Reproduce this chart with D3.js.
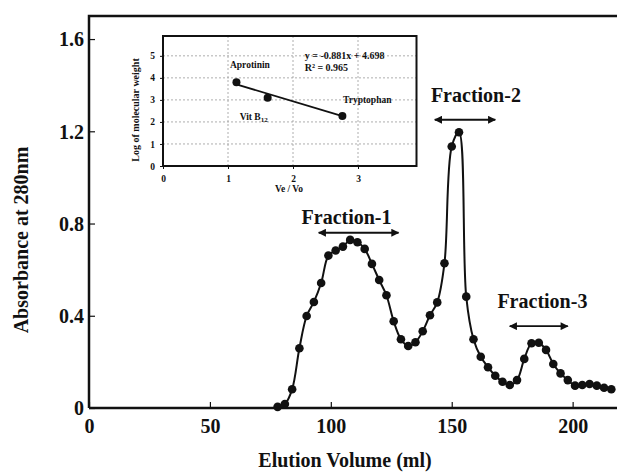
<!DOCTYPE html>
<html>
<head>
<meta charset="utf-8">
<script src="https://cdn.jsdelivr.net/npm/d3@7"></script>
<style>
  body { margin: 0; background: #fff; }
  svg text { font-family: "Liberation Serif", "DejaVu Serif", serif !important; font-weight: bold; fill: #111; }
</style>
</head>
<body>
<svg width="617" height="476"></svg>
<script>
// Elution profile (3 ml fractions)
const volume = [78, 81, 84, 87, 90, 93, 96, 99, 102, 105, 108, 111, 114, 117, 120, 123,
  126, 129, 132, 135, 138, 141, 144, 147, 150, 153, 156, 159, 162, 165, 168, 171, 174,
  177, 180, 183, 186, 189, 192, 195, 198, 201, 204, 207, 210, 213, 216];
const absorbance = [0.005, 0.017, 0.081, 0.259, 0.399, 0.46, 0.542, 0.661, 0.683, 0.70,
  0.729, 0.719, 0.69, 0.625, 0.555, 0.489, 0.376, 0.298, 0.269, 0.285, 0.333, 0.402,
  0.458, 0.628, 1.134, 1.196, 0.483, 0.298, 0.222, 0.177, 0.14, 0.114, 0.10, 0.121,
  0.213, 0.281, 0.283, 0.252, 0.191, 0.15, 0.121, 0.097, 0.10, 0.104, 0.097, 0.088, 0.081];
const xTicks = [0, 50, 100, 150, 200];
const yTicks = [0, 0.4, 0.8, 1.2, 1.6];

// Pooled fractions (arrows)
const fractions = ['Fraction-1', 'Fraction-2', 'Fraction-3'];
const fractionStart = [95, 143, 174];
const fractionEnd = [128, 168, 198];
const fractionLevel = [0.76, 1.25, 0.355];

// Calibration inset
const standards = ['Aprotinin', 'Vit B', 'Tryptophan'];
const standardSub = ['', '12', ''];
const veVo = [1.13, 1.61, 2.76];
const logMW = [3.8, 3.1, 2.27];
const slope = -0.881;
const intercept = 4.698;
const rSquared = 0.965;
const insetXTicks = [0, 1, 2, 3];
const insetYTicks = [0, 1, 2, 3, 4, 5];

const svg = d3.select('svg');
const serif = '"Liberation Serif", "DejaVu Serif", serif';

// Main scales
const x = d3.scaleLinear().domain([0, 220]).range([89, 621]);
const y = d3.scaleLinear().domain([0, 1.7]).range([408, 16]);

const fmt = (d) => d === 0 ? '0' : d.toFixed(1);

const xAxis = svg.append('g')
    .attr('transform', `translate(0, ${y(0)})`)
    .call(d3.axisBottom(x).tickValues(xTicks).tickSize(-6).tickSizeOuter(0).tickPadding(11));
const yAxis = svg.append('g')
    .attr('transform', `translate(${x(0)}, 0)`)
    .call(d3.axisLeft(y).tickValues(yTicks).tickFormat(fmt).tickSize(-6).tickSizeOuter(0).tickPadding(5));

[xAxis, yAxis].forEach((a) => {
  a.attr('font-family', serif);
  a.select('.domain').remove();
  a.selectAll('line').attr('stroke', '#111').attr('stroke-width', 1.2);
  a.selectAll('text')
    .style('font-size', '20px')
    .attr('fill', '#111');
});
yAxis.selectAll('.tick text').attr('dy', '0.34em');

// Frame: left + bottom + top (right edge falls outside the picture)
svg.append('path')
    .attr('d', `M${x(0)},${y(0)}H${x(220)}M${x(0)},${y(0)}V${y(1.7)}H${x(220)}`)
    .attr('fill', 'none')
    .attr('stroke', '#111')
    .attr('stroke-width', 2.5);

// Axis titles
svg.append('text')
    .attr('x', 345).attr('y', 467)
    .attr('text-anchor', 'middle')
    .style('font-size', '20px')
    .text('Elution Volume (ml)');
svg.append('text')
    .attr('transform', 'translate(28, 240) rotate(-90)')
    .attr('text-anchor', 'middle')
    .style('font-size', '20px')
    .text('Absorbance at 280nm');

// Profile line and markers
const pts = volume.map((v, i) => [v, absorbance[i]]);
svg.append('path')
    .datum(pts)
    .attr('fill', 'none')
    .attr('stroke', '#111')
    .attr('stroke-width', 2)
    .attr('d', d3.line().x((d) => x(d[0])).y((d) => y(d[1])).curve(d3.curveCatmullRom.alpha(0.5)));
svg.append('g').selectAll('circle')
    .data(pts)
    .join('circle')
    .attr('cx', (d) => x(d[0]))
    .attr('cy', (d) => y(d[1]))
    .attr('r', 4.3)
    .attr('fill', '#111');

// Arrow heads
const defs = svg.append('defs');
['start', 'end'].forEach((k) => {
  defs.append('marker')
      .attr('id', `arrow-${k}`)
      .attr('viewBox', '0 0 10 10')
      .attr('refX', k === 'end' ? 9 : 1).attr('refY', 5)
      .attr('markerWidth', 9).attr('markerHeight', 8)
      .attr('markerUnits', 'userSpaceOnUse')
      .attr('orient', 'auto')
      .append('path')
      .attr('d', k === 'end' ? 'M0,0L10,5L0,10Z' : 'M10,0L0,5L10,10Z')
      .attr('fill', '#111');
});

// label offsets above the arrow (px), and label centre shift (ml)
const labelLift = [9, 18, 18];
const labelShift = [-5, 4.5, 1.5];
fractions.forEach((f, i) => {
  svg.append('line')
      .attr('x1', x(fractionStart[i])).attr('x2', x(fractionEnd[i]))
      .attr('y1', y(fractionLevel[i])).attr('y2', y(fractionLevel[i]))
      .attr('stroke', '#111').attr('stroke-width', 1.8)
      .attr('marker-start', 'url(#arrow-start)')
      .attr('marker-end', 'url(#arrow-end)');
  svg.append('text')
      .attr('x', x((fractionStart[i] + fractionEnd[i]) / 2 + labelShift[i]))
      .attr('y', y(fractionLevel[i]) - labelLift[i])
      .attr('text-anchor', 'middle')
      .style('font-size', '20px')
      .text(f);
});

// ---- Inset: calibration curve ----
const ix = d3.scaleLinear().domain([0, 3.9]).range([163, 416.5]);
const iy = d3.scaleLinear().domain([0, 5.9]).range([166, 36]);
const inset = svg.append('g');

inset.append('rect')
    .attr('x', ix(0)).attr('y', iy(5.9))
    .attr('width', ix(3.9) - ix(0)).attr('height', iy(0) - iy(5.9))
    .attr('fill', '#fff');

// dashed grid
inset.append('g').selectAll('line')
    .data(insetYTicks.slice(1))
    .join('line')
    .attr('x1', ix(0)).attr('x2', ix(3.9))
    .attr('y1', (d) => iy(d)).attr('y2', (d) => iy(d))
    .attr('stroke', '#999').attr('stroke-width', 0.8).attr('stroke-dasharray', '2,2');
inset.append('g').selectAll('line')
    .data(insetXTicks.slice(1))
    .join('line')
    .attr('x1', (d) => ix(d)).attr('x2', (d) => ix(d))
    .attr('y1', iy(0)).attr('y2', iy(5.9))
    .attr('stroke', '#999').attr('stroke-width', 0.8).attr('stroke-dasharray', '2,2');

const ixAxis = inset.append('g')
    .attr('transform', `translate(0, ${iy(0)})`)
    .call(d3.axisBottom(ix).tickValues(insetXTicks).tickFormat(d3.format('d'))
      .tickSize(3).tickSizeOuter(0).tickPadding(6));
const iyAxis = inset.append('g')
    .attr('transform', `translate(${ix(0)}, 0)`)
    .call(d3.axisLeft(iy).tickValues(insetYTicks).tickFormat(d3.format('d'))
      .tickSize(3).tickSizeOuter(0).tickPadding(5));
[ixAxis, iyAxis].forEach((a) => {
  a.attr('font-family', serif);
  a.select('.domain').remove();
  a.selectAll('line').attr('stroke', '#111');
  a.selectAll('text')
    .style('font-size', '9.5px')
    .attr('fill', '#111');
});

inset.append('rect')
    .attr('x', ix(0)).attr('y', iy(5.9))
    .attr('width', ix(3.9) - ix(0)).attr('height', iy(0) - iy(5.9))
    .attr('fill', 'none').attr('stroke', '#111').attr('stroke-width', 2);

// regression line
inset.append('line')
    .attr('x1', ix(veVo[0])).attr('y1', iy(slope * veVo[0] + intercept))
    .attr('x2', ix(veVo[2])).attr('y2', iy(slope * veVo[2] + intercept))
    .attr('stroke', '#111').attr('stroke-width', 1.8);

inset.append('g').selectAll('circle')
    .data(veVo)
    .join('circle')
    .attr('cx', (d) => ix(d))
    .attr('cy', (d, i) => iy(logMW[i]))
    .attr('r', 4)
    .attr('fill', '#111');

// standard labels (position in inset units)
const standardLabelX = [1.03, 1.18, 2.77];
const standardLabelY = [4.45, 2.09, 2.86];
standards.forEach((s, i) => {
  const t = inset.append('text')
      .attr('x', ix(standardLabelX[i]))
      .attr('y', iy(standardLabelY[i]))
      .style('font-size', '9.5px')
      .text(s);
  if (standardSub[i]) {
    t.append('tspan').attr('dy', 2.5).style('font-size', '7px').text(standardSub[i]);
  }
});

inset.append('text')
    .attr('x', ix(2.18)).attr('y', iy(4.86))
    .style('font-size', '10px')
    .text(`y = ${slope}x + ${intercept}`);
inset.append('text')
    .attr('x', ix(2.18)).attr('y', iy(4.3))
    .style('font-size', '10px')
    .text(`R² = ${rSquared}`);

inset.append('text')
    .attr('x', 289).attr('y', 192)
    .attr('text-anchor', 'middle')
    .style('font-size', '9.5px')
    .text('Ve / Vo');
inset.append('text')
    .attr('transform', 'translate(139, 110) rotate(-90)')
    .attr('text-anchor', 'middle')
    .style('font-size', '10px')
    .text('Log of molecular weight');
</script>
</body>
</html>
